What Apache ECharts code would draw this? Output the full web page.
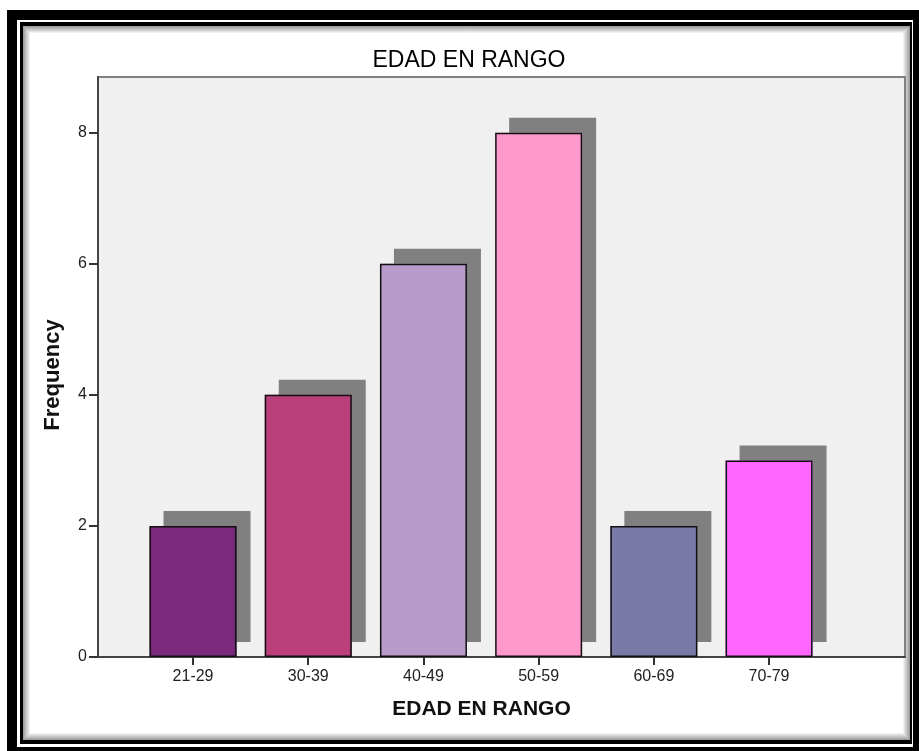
<!DOCTYPE html>
<html>
<head>
<meta charset="utf-8">
<script src="https://cdn.jsdelivr.net/npm/echarts@6/dist/echarts.min.js"></script>
<style>
  html, body { margin: 0; padding: 0; background: #ffffff; }
  #chart { width: 919px; height: 751px; }
</style>
</head>
<body>
<div id="chart"></div>
<script>
// Age groups and how many people fall in each
const categories = ['21-29', '30-39', '40-49', '50-59', '60-69', '70-79'];
const frequencies = [2, 4, 6, 8, 2, 3];
const barColors = ['#7B297C', '#BA3F7B', '#B89BCA', '#FF99CC', '#7A7AA9', '#FF66FF'];
const yTickValues = [0, 2, 4, 6, 8];
const xTickValues = categories.map((_, i) => i);

const FONT = '"Liberation Sans", Arial, sans-serif';

// Double black frame with a soft inner bevel
const frame = [
  { type: 'rect', z: -10, shape: { x: 7, y: 10, width: 912, height: 741 }, style: { fill: '#000' } },
  { type: 'rect', z: -10, shape: { x: 17, y: 20, width: 896, height: 727 }, style: { fill: '#fff' } },
  { type: 'rect', z: -10, shape: { x: 20, y: 22, width: 892, height: 722 }, style: { fill: '#000' } },
  { type: 'rect', z: -10, shape: { x: 23, y: 26, width: 887, height: 714 }, style: { fill: '#fff' } }
];
for (let i = 0; i < 7; i++) {
  frame.push({
    type: 'rect', z: -9, silent: true,
    shape: { x: 23.5 + i, y: 26.5 + i, width: 886 - 2 * i, height: 713 - 2 * i },
    style: { fill: 'none', stroke: 'rgba(0,0,0,' + (0.38 * (1 - i / 7)).toFixed(3) + ')', lineWidth: 1 }
  });
}

const barData = frequencies.map((f, i) => [i, f]);

const chart = echarts.init(document.getElementById('chart'), null, { renderer: 'canvas' });
chart.setOption({
  animation: false,
  backgroundColor: '#ffffff',
  graphic: frame,
  title: {
    text: 'EDAD EN RANGO',
    left: 464,
    textAlign: 'center',
    top: 44,
    textStyle: { fontFamily: FONT, fontSize: 23, fontWeight: 'normal', color: '#000' }
  },
  grid: {
    left: 98, top: 77, right: 14, bottom: 94,
    show: true,
    backgroundColor: '#F0F0F0',
    borderColor: '#808080',
    borderWidth: 2
  },
  xAxis: {
    type: 'value',
    min: -0.825,
    max: 6.18,
    name: 'EDAD EN RANGO',
    nameLocation: 'middle',
    nameGap: 42,
    nameTextStyle: { fontFamily: FONT, fontSize: 21, fontWeight: 'bold', color: '#111', padding: [0, 40, 0, 0] },
    splitLine: { show: false },
    axisLine: { show: true, onZero: false, lineStyle: { color: '#444', width: 2 } },
    axisTick: { show: true, length: 8, customValues: xTickValues, lineStyle: { color: '#333', width: 2 } },
    axisLabel: {
      customValues: xTickValues,
      margin: 12,
      fontFamily: FONT, fontSize: 16, color: '#222',
      formatter: v => categories[Math.round(v)] ?? ''
    }
  },
  yAxis: {
    type: 'value',
    min: 0,
    max: 8.85,
    name: 'Frequency',
    nameLocation: 'middle',
    nameRotate: 90,
    nameGap: 34,
    nameTextStyle: { fontFamily: FONT, fontSize: 22, fontWeight: 'bold', color: '#111', padding: [0, 16, 0, 0] },
    splitLine: { show: false },
    axisLine: { show: true, onZero: false, lineStyle: { color: '#444', width: 2 } },
    axisTick: { show: true, length: 9, customValues: yTickValues, lineStyle: { color: '#333', width: 2 } },
    axisLabel: { customValues: yTickValues, margin: 11, fontFamily: FONT, fontSize: 16, color: '#222' }
  },
  series: [
    {
      // filled bars casting the hard grey drop shadow
      type: 'bar',
      barWidth: 87,
      barGap: '-100%',
      clip: false,
      data: barData.map((d, i) => ({ value: d, itemStyle: { color: barColors[i] } })),
      itemStyle: {
        borderWidth: 0,
        shadowColor: '#808080',
        shadowBlur: 0,
        shadowOffsetX: 14,
        shadowOffsetY: -15
      }
    },
    {
      // black outlines drawn on top of the fills
      type: 'bar',
      barWidth: 87,
      barGap: '-100%',
      clip: false,
      silent: true,
      data: barData,
      itemStyle: { color: 'rgba(0,0,0,0)', borderColor: '#111', borderWidth: 1.5 }
    }
  ]
});
</script>
</body>
</html>
